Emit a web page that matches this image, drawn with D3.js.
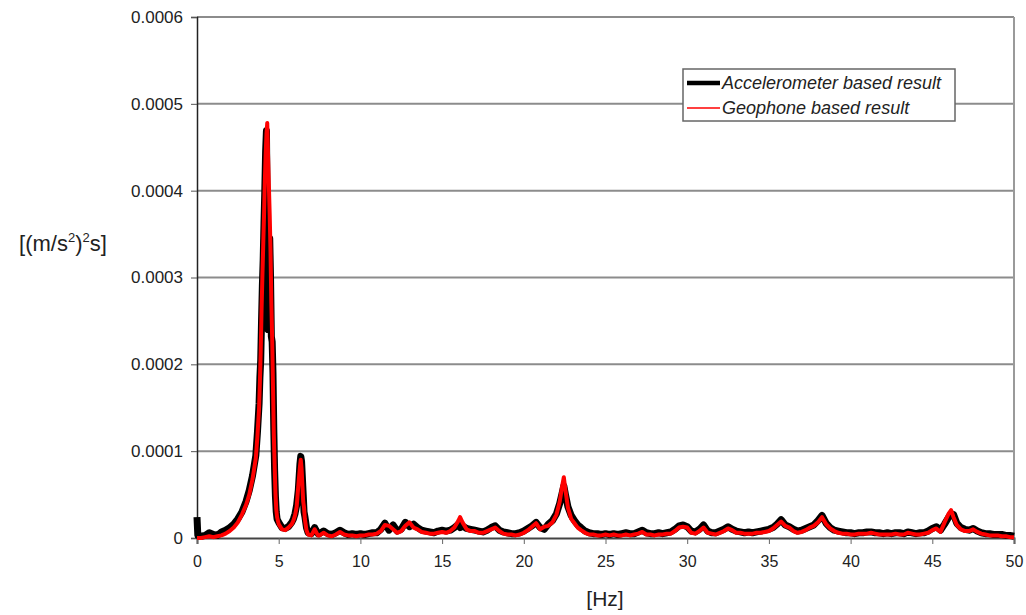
<!DOCTYPE html>
<html>
<head>
<meta charset="utf-8">
<script src="https://cdn.jsdelivr.net/npm/d3@7"></script>
<style>
  body { margin: 0; background: #fff; }
  svg { display: block; font-family: "Liberation Sans", Arial, sans-serif; }
</style>
</head>
<body>
<div id="chart"></div>
<script>
// values in 1e-6 (m/s^2)^2 s
let freq = [0, 0.05, 0.25, 0.5, 0.75, 1.0, 1.25, 1.5, 1.75, 2.0, 2.25, 2.5, 2.75, 3.0, 3.2, 3.4, 3.6,
  3.7, 3.8, 3.85, 3.9, 3.95, 4.0, 4.05, 4.1, 4.15, 4.2, 4.25, 4.3, 4.35, 4.4, 4.45, 4.5, 4.55, 4.6, 4.65, 4.7, 4.75, 4.8, 4.85, 4.9,
  5.0, 5.2, 5.4, 5.6, 5.8, 5.9, 6.0, 6.1, 6.2, 6.3, 6.35, 6.4, 6.5, 6.55, 6.6, 6.7, 6.8, 7.0, 7.2, 7.4,
  7.5, 7.75, 8.0, 8.25, 8.5, 8.75, 9.0, 9.25, 9.5, 9.75, 10.0, 10.25, 10.5, 10.75, 11.0, 11.25, 11.5, 11.75,
  12.0, 12.25, 12.5, 12.75, 13.0, 13.25, 13.5, 13.75, 14.0, 14.25, 14.5, 14.75, 15.0, 15.25, 15.5, 15.75,
  16.0, 16.1, 16.25, 16.5, 16.75, 17.0, 17.25, 17.5, 17.75, 18.0, 18.25, 18.5, 18.75, 19.0, 19.25, 19.5, 19.75,
  20.0, 20.25, 20.5, 20.75, 21.0, 21.25, 21.5, 21.75, 22.0, 22.2, 22.35, 22.45, 22.55, 22.7, 22.9, 23.1, 23.3, 23.5, 23.75,
  24.0, 24.25, 24.5, 24.75, 25.0, 25.25, 25.5, 25.75, 26.0, 26.25, 26.5, 26.75, 27.0, 27.25, 27.5, 27.75,
  28.0, 28.25, 28.5, 28.75, 29.0, 29.25, 29.5, 29.75, 30.0, 30.25, 30.5, 30.75, 31.0, 31.25, 31.5, 31.75,
  32.0, 32.25, 32.5, 32.75, 33.0, 33.25, 33.5, 33.75, 34.0, 34.25, 34.5, 34.75, 35.0, 35.25, 35.5, 35.75,
  36.0, 36.25, 36.5, 36.75, 37.0, 37.25, 37.5, 37.75, 38.0, 38.25, 38.5, 38.75, 39.0, 39.25, 39.5, 39.75,
  40.0, 40.25, 40.5, 40.75, 41.0, 41.25, 41.5, 41.75, 42.0, 42.25, 42.5, 42.75, 43.0, 43.25, 43.5, 43.75,
  44.0, 44.25, 44.5, 44.75, 45.0, 45.25, 45.5, 45.75, 46.0, 46.15, 46.3, 46.5, 46.75, 47.0, 47.25, 47.5, 47.75,
  48.0, 48.25, 48.5, 48.75, 49.0, 49.25, 49.5, 49.75, 50.0];

let accel = [24, 3, 2, 3, 6, 4, 3, 7, 9, 12, 16, 22, 30, 42, 55, 72, 95,
  122, 155, 185, 205, 250, 290, 320, 362, 400, 445, 469, 360, 240, 330, 345, 300, 232, 226, 190, 125, 78, 48, 30, 22,
  18, 12, 11, 13, 18, 22, 28, 38, 55, 85, 94, 88, 50, 30, 25, 12, 6, 5, 12, 5,
  5, 8, 5, 4, 6, 9, 6, 4, 5, 4, 5, 4, 5, 6, 6, 10, 17, 9,
  15, 8, 10, 18, 13, 16, 12, 9, 8, 7, 6, 8, 9, 8, 9, 12,
  16, 12, 14, 11, 10, 9, 8, 7, 9, 12, 14, 9, 7, 6, 5, 5, 6,
  8, 11, 14, 18, 12, 10, 16, 20, 28, 40, 52, 60, 50, 36, 26, 20, 15, 12, 8,
  6, 5, 5, 4, 5, 4, 5, 4, 5, 6, 5, 5, 7, 9, 6, 5,
  5, 6, 5, 6, 7, 10, 14, 15, 13, 8, 7, 10, 15, 8, 6, 6,
  8, 10, 13, 10, 8, 7, 6, 7, 6, 7, 8, 9, 10, 12, 16, 21,
  15, 13, 10, 8, 9, 11, 13, 15, 20, 26, 17, 12, 9, 8, 7, 6,
  6, 5, 6, 6, 7, 7, 6, 6, 5, 6, 5, 6, 6, 5, 7, 6,
  5, 6, 6, 8, 11, 13, 9, 16, 24, 28, 27, 17, 12, 10, 9, 11, 8,
  6, 5, 5, 4, 4, 4, 3, 3, 2];

let geophone = [0, 0, 0, 1, 2, 1, 2, 3, 5, 8, 12, 18, 27, 38, 50, 68, 92,
  118, 150, 180, 215, 262, 300, 335, 370, 410, 440, 465, 478, 440, 405, 372, 330, 270, 230, 175, 120, 85, 52, 33, 24,
  16, 10, 9, 12, 16, 20, 26, 36, 60, 82, 90, 80, 42, 35, 22, 9, 4, 3, 10, 3,
  3, 6, 3, 2, 4, 7, 4, 3, 3, 2, 3, 3, 4, 4, 5, 8, 15, 14,
  10, 6, 8, 14, 18, 12, 10, 7, 6, 5, 5, 6, 7, 6, 8, 12,
  20, 24, 18, 10, 8, 8, 6, 6, 8, 10, 12, 8, 5, 4, 4, 3, 4,
  6, 9, 13, 17, 10, 13, 14, 18, 27, 42, 60, 70, 55, 35, 22, 17, 12, 9, 6,
  4, 4, 3, 3, 4, 3, 4, 3, 3, 4, 3, 4, 5, 7, 4, 4,
  3, 4, 4, 5, 5, 8, 12, 13, 12, 6, 5, 8, 12, 6, 5, 4,
  6, 8, 11, 9, 6, 6, 5, 5, 5, 6, 6, 7, 8, 11, 15, 19,
  14, 12, 8, 6, 7, 9, 12, 14, 18, 24, 16, 11, 8, 6, 5, 5,
  4, 4, 5, 5, 5, 6, 5, 4, 4, 4, 4, 5, 4, 4, 6, 5,
  4, 4, 5, 6, 9, 11, 7, 18, 28, 32, 24, 15, 10, 8, 8, 10, 7,
  5, 4, 3, 3, 3, 2, 2, 1, 1];

let yTicks = [0, 100, 200, 300, 400, 500, 600];
let xTicks = [0, 5, 10, 15, 20, 25, 30, 35, 40, 45, 50];
let seriesNames = ["Accelerometer based result", "Geophone based result"];

function drawChart() {
  let left = 197, right = 1014, top = 17, bottom = 538;

  let svg = d3.select("#chart")
    .append("svg")
    .attr("width", 1026)
    .attr("height", 615);

  let xScale = d3.scaleLinear().domain([0, 50]).range([left, right]);
  let yScale = d3.scaleLinear().domain([0, 600]).range([bottom, top]);

  // gridlines
  svg.append("g")
    .selectAll("line")
    .data(yTicks.filter(function (d) { return d > 0; }))
    .enter().append("line")
    .attr("x1", left).attr("x2", right)
    .attr("y1", function (d) { return yScale(d); })
    .attr("y2", function (d) { return yScale(d); })
    .attr("stroke", "#8c8c8c")
    .attr("stroke-width", 2);

  // right border of plot area
  svg.append("line")
    .attr("x1", right).attr("x2", right)
    .attr("y1", top).attr("y2", bottom)
    .attr("stroke", "#9a9a9a")
    .attr("stroke-width", 2);

  // y axis
  let yAxis = svg.append("g")
    .attr("transform", "translate(" + left + ",0)")
    .call(d3.axisLeft(yScale).tickValues(yTicks).tickSize(6).tickPadding(8)
      .tickFormat(function (d) { return d === 0 ? "0" : (d * 1e-6).toFixed(4); }));
  yAxis.select(".domain").attr("stroke", "#222").attr("stroke-width", 1.5);
  yAxis.selectAll(".tick line").attr("stroke", "#555");
  yAxis.selectAll("text").style("font-size", "17px").attr("fill", "#222");

  // x axis
  let xAxis = svg.append("g")
    .attr("transform", "translate(0," + bottom + ")")
    .call(d3.axisBottom(xScale).tickValues(xTicks).tickSize(6).tickPadding(12));
  xAxis.select(".domain").attr("stroke", "#444").attr("stroke-width", 2);
  xAxis.selectAll(".tick line").attr("stroke", "#666");
  xAxis.selectAll("text").style("font-size", "16px").attr("fill", "#222");

  let line = d3.line()
    .x(function (d) { return xScale(d[0]); })
    .y(function (d) { return yScale(d[1]); });

  svg.append("path")
    .datum(d3.zip(freq, accel))
    .attr("fill", "none")
    .attr("stroke", "#000")
    .attr("stroke-width", 7)
    .attr("stroke-linejoin", "round")
    .attr("d", line);

  svg.append("path")
    .datum(d3.zip(freq, geophone))
    .attr("fill", "none")
    .attr("stroke", "#ff0000")
    .attr("stroke-width", 4)
    .attr("stroke-linejoin", "round")
    .attr("d", line);

  // axis titles
  svg.append("text")
    .attr("x", 605)
    .attr("y", 606)
    .attr("text-anchor", "middle")
    .style("font-size", "21px")
    .attr("fill", "#222")
    .text("[Hz]");

  let yt = svg.append("text")
    .attr("x", 63)
    .attr("y", 251)
    .attr("text-anchor", "middle")
    .style("font-size", "22px")
    .attr("fill", "#222");
  yt.append("tspan").text("[(m/s");
  yt.append("tspan").attr("dy", -9).style("font-size", "13px").text("2");
  yt.append("tspan").attr("dy", 9).text(")");
  yt.append("tspan").attr("dy", -9).style("font-size", "13px").text("2");
  yt.append("tspan").attr("dy", 9).text("s]");

  // legend
  let legend = svg.append("g");
  legend.append("rect")
    .attr("x", 683).attr("y", 69)
    .attr("width", 272).attr("height", 52)
    .attr("fill", "#fff")
    .attr("stroke", "#666")
    .attr("stroke-width", 1.5);

  let legendStyles = [{ color: "#000", w: 4.5 }, { color: "#ff0000", w: 1.5 }];
  seriesNames.forEach(function (name, i) {
    let y = 83 + i * 25;
    legend.append("line")
      .attr("x1", 687).attr("x2", 720)
      .attr("y1", y).attr("y2", y)
      .attr("stroke", legendStyles[i].color)
      .attr("stroke-width", legendStyles[i].w);
    legend.append("text")
      .attr("x", 722)
      .attr("y", y + 6)
      .style("font-size", "18px")
      .style("font-style", "italic")
      .attr("fill", "#222")
      .text(name);
  });
}

drawChart();
</script>
</body>
</html>
